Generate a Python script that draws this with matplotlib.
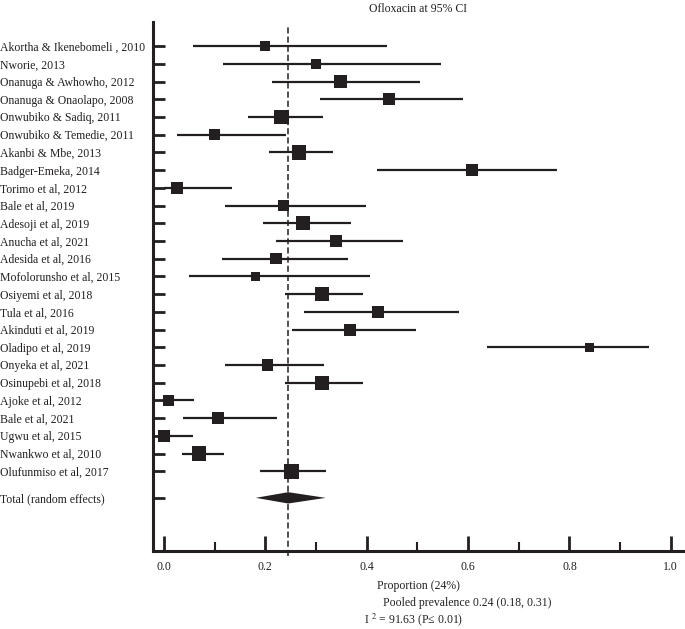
import numpy as np
import matplotlib
matplotlib.use("Agg")
import matplotlib.pyplot as plt
from matplotlib.ticker import MultipleLocator

# study labels, top to bottom
studies = ["Akortha & Ikenebomeli , 2010", "Nworie, 2013", "Onanuga & Awhowho, 2012",
           "Onanuga & Onaolapo, 2008", "Onwubiko & Sadiq, 2011", "Onwubiko & Temedie, 2011",
           "Akanbi & Mbe, 2013", "Badger-Emeka, 2014", "Torimo et al, 2012", "Bale et al, 2019",
           "Adesoji et al, 2019", "Anucha et al, 2021", "Adesida et al, 2016",
           "Mofolorunsho et al, 2015", "Osiyemi et al, 2018", "Tula et al, 2016",
           "Akinduti et al, 2019", "Oladipo et al, 2019", "Onyeka et al, 2021",
           "Osinupebi et al, 2018", "Ajoke et al, 2012", "Bale et al, 2021", "Ugwu et al, 2015",
           "Nwankwo et al, 2010", "Olufunmiso et al, 2017"]
# proportion and 95% CI
prop = [0.200, 0.300, 0.348, 0.444, 0.232, 0.100, 0.267, 0.607, 0.026, 0.236,
        0.274, 0.339, 0.221, 0.181, 0.312, 0.423, 0.367, 0.840, 0.204, 0.312,
        0.009, 0.106, 0.000, 0.069, 0.251]
lo = [0.057, 0.117, 0.213, 0.308, 0.166, 0.026, 0.208, 0.420, 0.000, 0.120,
      0.196, 0.221, 0.114, 0.050, 0.239, 0.276, 0.252, 0.638, 0.120, 0.239,
      0.000, 0.038, 0.000, 0.036, 0.189]
hi = [0.440, 0.546, 0.506, 0.589, 0.313, 0.240, 0.334, 0.776, 0.135, 0.398,
      0.369, 0.472, 0.364, 0.406, 0.392, 0.583, 0.497, 0.957, 0.315, 0.392,
      0.059, 0.222, 0.057, 0.119, 0.320]
# random effects weights (%)
weight = [2.8, 2.5, 4.4, 3.7, 5.7, 3.7, 5.7, 4.0, 3.7, 3.7,
          5.4, 4.0, 3.7, 2.35, 5.7, 4.0, 4.0, 2.35, 3.7, 5.7,
          3.7, 4.0, 4.0, 6.0, 6.0]
pooled = 0.245
pooled_lo = 0.181
pooled_hi = 0.319

ink = '#231f20'
fs = 8.5
plt.rcParams['font.family'] = ['Liberation Serif', 'DejaVu Serif']
plt.rcParams['mathtext.fontset'] = 'stix'

fig = plt.figure(figsize=(6.85, 6.29), dpi=100)
ax = fig.add_axes([153/685, 1-551/629, 1-153/685, (551-22)/629])

n = len(studies)
ypos = np.arange(n)
ytot = n - 1 + 1.5

#CI lines and weighted squares
ax.hlines(ypos, lo, hi, color=ink, lw=1.6, zorder=2)
side = 6*np.sqrt(np.array(weight))*72/100   # square side in points
ax.scatter(prop, ypos, s=side**2, marker='s', color=ink, zorder=3, linewidths=0)

#pooled diamond
ax.fill([pooled_lo, pooled, pooled_hi, pooled], [ytot, ytot-0.32, ytot, ytot+0.32],
        color=ink, lw=0, zorder=3)
ax.axvline(pooled, ymin=-0.01, ymax=0.994, color=ink, lw=1.1, ls=(0, (4, 2)),
           clip_on=False, zorder=4)

ax.set_xlim(-0.0217, 1.028)
ax.set_ylim(28.5, -1.36)
ax.set_yticks(list(ypos) + [ytot])
ax.set_yticklabels(studies + ["Total (random effects)"], fontsize=fs, color=ink)
for lab in ax.get_yticklabels():
    lab.set_horizontalalignment('left')
ax.tick_params(axis='y', direction='in', length=8.6, width=2.0, pad=110, color=ink)
ax.xaxis.set_minor_locator(MultipleLocator(0.1))
ax.set_xticks([0.0, 0.2, 0.4, 0.6, 0.8, 1.0])
ax.set_xticklabels(['0.0', '0.2', '0.4', '0.6', '0.8', '1.0'], fontsize=fs, color=ink)
ax.tick_params(axis='x', which='major', direction='in', length=10.8, width=2.0, pad=7, color=ink)
ax.tick_params(axis='x', which='minor', direction='in', length=6.2, width=1.5, color=ink)
for s in ['top', 'right']:
    ax.spines[s].set_visible(False)
for s in ['left', 'bottom']:
    ax.spines[s].set_linewidth(2.2)
    ax.spines[s].set_color(ink)

fig.text(418/685, 1-9/629, "Ofloxacin at 95% CI", ha='center', va='center', fontsize=fs, color=ink)
fig.text(418/685, 1-586/629, "Proportion (24%)", ha='center', va='center', fontsize=fs, color=ink)
fig.text(383/685, 1-603/629, "Pooled prevalence 0.24 (0.18, 0.31)", ha='left', va='center',
         fontsize=fs, color=ink)
fig.text(364/685, 1-620/629, "I $^{2}$ = 91.63 (P\u2264 0.01)", ha='left', va='center',
         fontsize=fs, color=ink)

fig.savefig('out.png', dpi=100)
